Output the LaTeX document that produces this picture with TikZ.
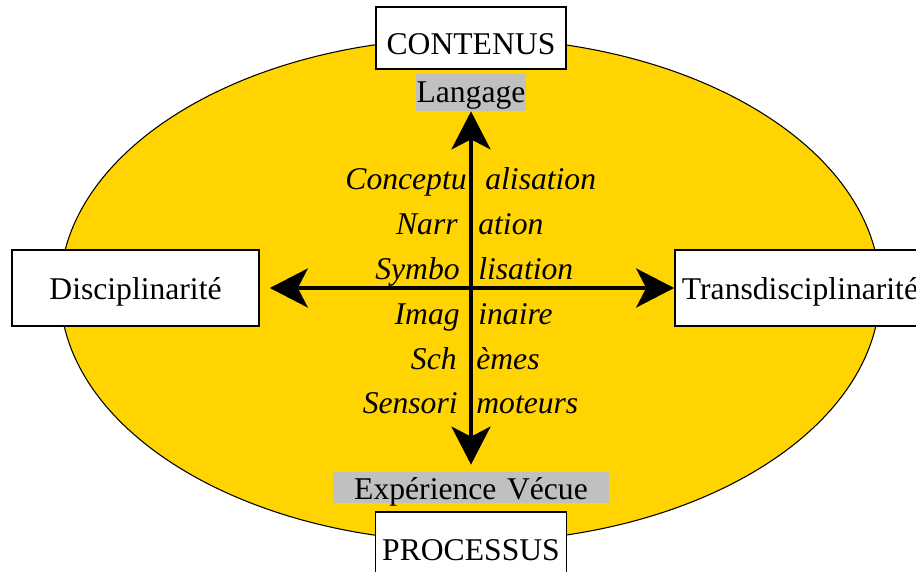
\documentclass[tikz,border=0pt]{standalone}
\usepackage{fontspec}
\setmainfont{Liberation Serif}
\usetikzlibrary{arrows.meta}

\definecolor{jaune}{RGB}{255,212,0}
\definecolor{gris}{RGB}{192,192,192}

\tikzset{
  cadre/.style={draw, fill=white, line width=0.9pt, inner sep=0pt, align=center, anchor=base},
  grise/.style={fill=gris, inner sep=0pt, align=center, anchor=base},
  fleche/.style={line width=2pt, {Stealth[length=0.76cm,width=0.78cm,inset=0.2cm]}-{Stealth[length=0.76cm,width=0.78cm,inset=0.2cm]}},
  mot/.style={font=\fontsize{18}{21}\selectfont\itshape, inner sep=0pt}
}

\begin{document}
\begin{tikzpicture}[font=\fontsize{18}{21}\selectfont]

\useasboundingbox (0,0) rectangle (18.32,11.42);

\draw[fill=jaune, line width=0.6pt] (9.40,5.62) ellipse (8.20 and 5.04);

\node[cadre, text width=3.8cm, text height=0.96cm, text depth=0.28cm] (contenus) at (9.42,10.32) {CONTENUS};
\node[cadre, text width=3.82cm, text height=0.96cm, text depth=0.28cm] (processus) at (9.42,0.22) {PROCESSUS};
\node[cadre, text width=4.94cm, text height=0.98cm, text depth=0.54cm] (disc) at (2.71,5.44) {Disciplinarité};
\node[cadre, text width=5.0cm, text height=0.98cm, text depth=0.54cm] (trans) at (16.0,5.44) {Transdisciplinarité};

\node[grise, text width=2.2cm, text height=0.58cm, text depth=0.16cm] (langage) at (9.42,9.36) {Langage};
\node[grise, text width=5.52cm, text height=0.54cm, text depth=0.08cm] (vecue) at (9.42,1.44) {Expérience Vécue};

\draw[fleche, shorten >=0.14cm] (langage.south) -- (vecue.north);
\draw[fleche, shorten <=0.2cm] (disc.east) -- (trans.west);

% mots coupes par la fleche verticale
\node[mot, anchor=base east] (g1) at (9.34,7.62) {Conceptu};
\node[mot, anchor=base west] (d1) at (9.70,7.62) {alisation};
\node[mot, anchor=base east] (g2) at (9.16,6.72) {Narr};
\node[mot, anchor=base west] (d2) at (9.56,6.72) {ation};
\node[mot, anchor=base east] (g3) at (9.20,5.84) {Symbo};
\node[mot, anchor=base west] (d3) at (9.56,5.84) {lisation};
\node[mot, anchor=base east] (g4) at (9.20,4.94) {Imag};
\node[mot, anchor=base west] (d4) at (9.56,4.94) {inaire};
\node[mot, anchor=base east] (g5) at (9.14,4.04) {Sch};
\node[mot, anchor=base west] (d5) at (9.52,4.04) {èmes};
\node[mot, anchor=base east] (g6) at (9.16,3.16) {Sensori};
\node[mot, anchor=base west] (d6) at (9.52,3.16) {moteurs};

\end{tikzpicture}
\end{document}
